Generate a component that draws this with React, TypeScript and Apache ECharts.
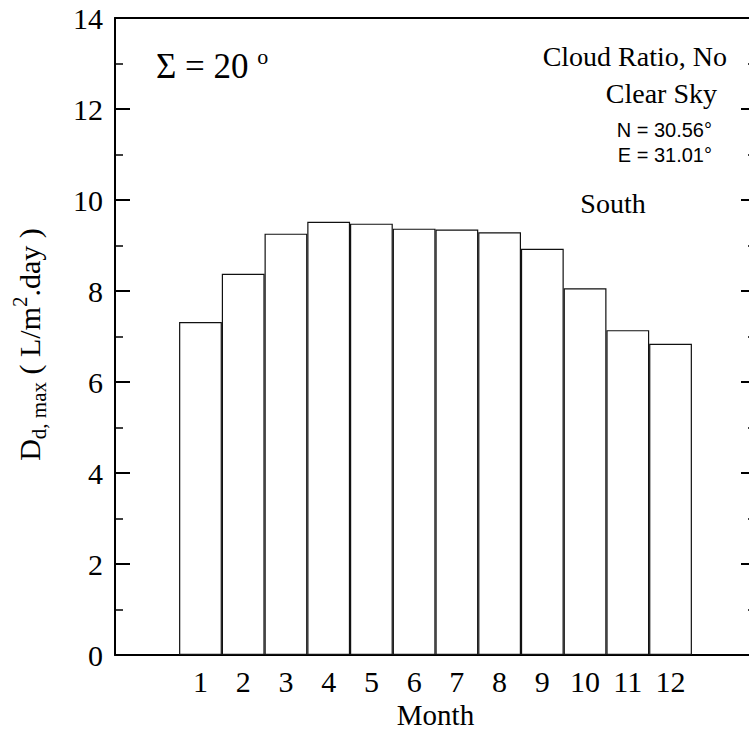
import React, { useEffect, useRef } from "react";
import * as echarts from "echarts";

const months = [1, 2, 3, 4, 5, 6, 7, 8, 9, 10, 11, 12];
const dMax = [7.32, 8.38, 9.26, 9.52, 9.48, 9.37, 9.35, 9.29, 8.93, 8.06, 7.14, 6.84];
const yTicks = [0, 2, 4, 6, 8, 10, 12, 14];

const SERIF = "Liberation Serif";
const SANS = "Liberation Sans";

export default function App() {
  const ref = useRef<HTMLDivElement>(null);
  useEffect(() => {
    if (!ref.current) return;
    const chart = echarts.init(ref.current, null, { renderer: "svg" });
    const axisLine = { show: true, onZero: false, lineStyle: { color: "#000", width: 2 } };
    const txt = (text: string, x: number, y: number, size: number, family: string, align: string) => ({
      type: "text",
      x,
      y,
      style: {
        text,
        fontFamily: family,
        fontSize: size,
        fill: "#000",
        align,
        verticalAlign: "middle",
      },
    });
    const option: any = {
      animation: false,
      backgroundColor: "#fff",
      textStyle: { fontFamily: SERIF },
      grid: {
        left: 115,
        top: 18,
        right: -7,
        bottom: 75,
        containLabel: false,
        outerBoundsMode: "none",
      },
      xAxis: [
        {
          type: "value",
          min: -1,
          max: 14,
          interval: 1,
          position: "bottom",
          axisLine,
          splitLine: { show: false },
          axisTick: {
            show: true,
            inside: true,
            length: 3,
            customValues: months,
            lineStyle: { color: "#333", width: 1 },
          },
          axisLabel: {
            show: true,
            customValues: months,
            margin: 11,
            fontFamily: SERIF,
            fontSize: 30,
            color: "#000",
          },
          name: "Month",
          nameLocation: "middle",
          nameGap: 44,
          nameTextStyle: { fontFamily: SERIF, fontSize: 29, lineHeight: 28, color: "#000" },
        },
        {
          type: "value",
          min: -1,
          max: 14,
          interval: 1,
          position: "top",
          axisLine,
          axisTick: { show: false },
          axisLabel: { show: false },
          splitLine: { show: false },
        },
      ],
      yAxis: [
        {
          type: "value",
          min: 0,
          max: 14,
          interval: 2,
          position: "left",
          axisLine,
          splitLine: { show: false },
          axisTick: { show: true, inside: true, length: 15, lineStyle: { color: "#000", width: 2 } },
          minorTick: { show: true, splitNumber: 2, length: 8, lineStyle: { color: "#000", width: 1.5 } },
          axisLabel: {
            margin: 12,
            fontFamily: SERIF,
            fontSize: 30,
            color: "#000",
            customValues: yTicks,
          },
          name: "{m|D}{s|d, max}{m| ( L/m}{p|2}{m|.day )}",
          nameLocation: "middle",
          nameRotate: 90,
          nameGap: 66,
          nameTextStyle: {
            color: "#000",
            fontFamily: SERIF,
            fontSize: 30,
            padding: [0, 16, 0, 0],
            rich: {
              m: { fontFamily: SERIF, fontSize: 30, lineHeight: 40, color: "#000" },
              s: { fontFamily: SERIF, fontSize: 21, lineHeight: 22, verticalAlign: "bottom", color: "#000" },
              p: { fontFamily: SERIF, fontSize: 21, lineHeight: 22, verticalAlign: "top", color: "#000" },
            },
          },
        },
        {
          type: "value",
          min: 0,
          max: 14,
          interval: 2,
          position: "right",
          axisLine,
          splitLine: { show: false },
          axisTick: { show: true, inside: true, length: 15, lineStyle: { color: "#000", width: 2 } },
          minorTick: { show: true, splitNumber: 2, length: 8, lineStyle: { color: "#000", width: 1.5 } },
          axisLabel: { show: false },
        },
      ],
      series: [
        {
          type: "bar",
          xAxisIndex: 0,
          yAxisIndex: 0,
          data: months.map((m, i) => [m, dMax[i]]),
          barWidth: 42.8,
          itemStyle: { color: "#fff", borderColor: "#111", borderWidth: 1.2 },
          silent: true,
        },
      ],
      graphic: [
        {
          type: "text",
          x: 156,
          y: 66,
          style: {
            text: "{a|Σ = 20 }{o|o}",
            fontFamily: SERIF,
            fontSize: 35,
            verticalAlign: "middle",
            fill: "#000",
            rich: {
              a: { fontFamily: SERIF, fontSize: 35, lineHeight: 42, fill: "#000" },
              o: { fontFamily: SERIF, fontSize: 22, lineHeight: 22, verticalAlign: "top", fill: "#000" },
            },
          },
        },
        txt("Cloud Ratio, No", 727, 56, 28, SERIF, "right"),
        txt("Clear Sky", 717, 93, 28, SERIF, "right"),
        txt("N = 30.56°", 712, 130, 20, SANS, "right"),
        txt("E = 31.01°", 712, 155, 20, SANS, "right"),
        txt("South", 613, 203, 28, SERIF, "center"),
      ],
    };
    chart.setOption(option);
    return () => chart.dispose();
  }, []);
  return (
    <div
      ref={ref}
      style={{ position: "fixed", left: 0, top: 0, width: 749, height: 730, background: "#fff" }}
    />
  );
}
